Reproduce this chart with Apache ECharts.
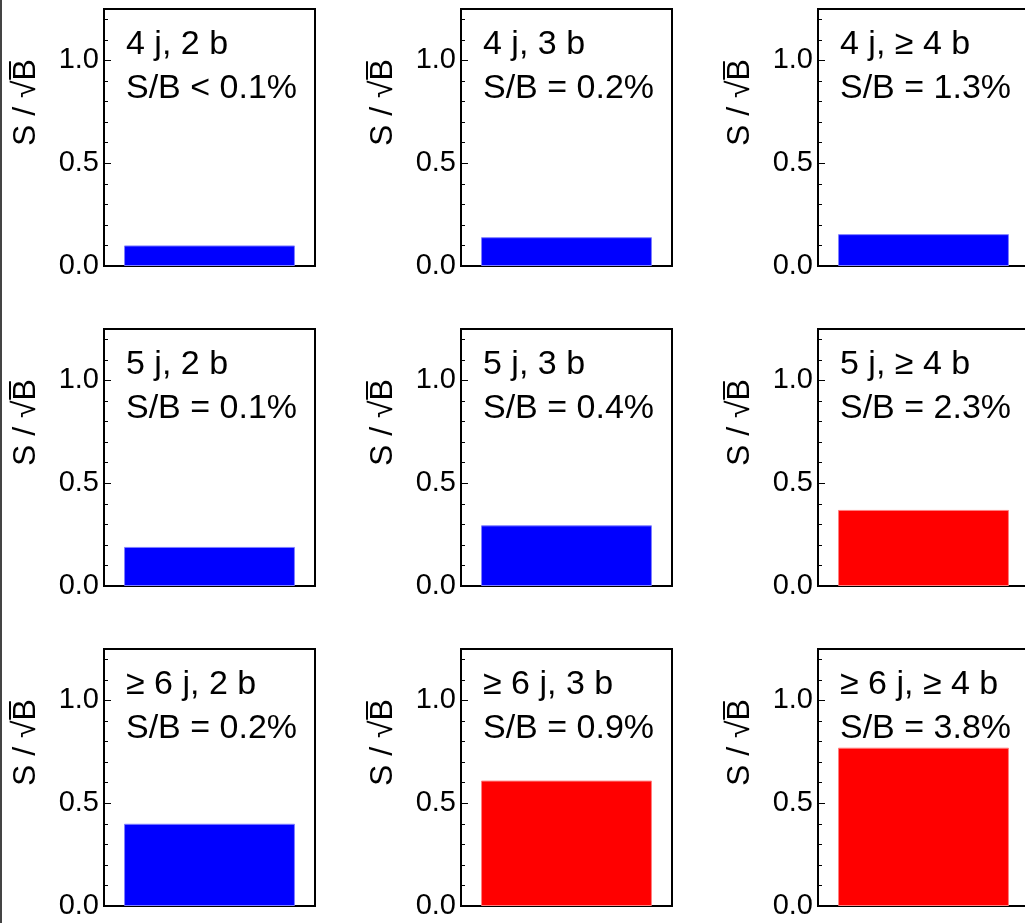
<!DOCTYPE html>
<html>
<head>
<meta charset="utf-8">
<script src="https://cdn.jsdelivr.net/npm/echarts@6/dist/echarts.min.js"></script>
<style>
html,body{margin:0;padding:0;background:#fff;overflow:hidden;}
#chart{width:1040px;height:923px;}
</style>
</head>
<body>
<div id="chart"></div>
<script>
// ---- data ----
const panelTitles = ['4 j, 2 b', '4 j, 3 b', '4 j, \u2265 4 b',
                     '5 j, 2 b', '5 j, 3 b', '5 j, \u2265 4 b',
                     '\u2265 6 j, 2 b', '\u2265 6 j, 3 b', '\u2265 6 j, \u2265 4 b'];
const sbLabels = ['S/B < 0.1%', 'S/B = 0.2%', 'S/B = 1.3%',
                  'S/B = 0.1%', 'S/B = 0.4%', 'S/B = 2.3%',
                  'S/B = 0.2%', 'S/B = 0.9%', 'S/B = 3.8%'];
const significance = [0.10, 0.14, 0.155, 0.19, 0.295, 0.37, 0.40, 0.61, 0.77];
const highlighted = [false, false, false, false, false, true, false, true, true];
const yTickLabels = [0, 0.5, 1.0];
const yMax = 1.25;
const yAxisTitle = 'S / \u221AB\u0305';

// ---- layout ----
const colLeft = [104, 461, 818];
const rowTop = [9, 329, 649];
const gW = 211, gH = 257;
const FONT = '"Liberation Sans", Arial, Helvetica, sans-serif';

const grids = [], xAxes = [], yAxes = [], series = [], graphics = [];
for (let i = 0; i < 9; i++) {
  const r = Math.floor(i / 3), c = i % 3;
  grids.push({left: colLeft[c], top: rowTop[r], width: gW, height: gH,
    show: true, borderColor: '#000', borderWidth: 2, backgroundColor: 'transparent', containLabel: false});
  xAxes.push({type: 'category', gridIndex: i, data: [panelTitles[i]],
    axisLine: {show: true, lineStyle: {color: '#000', width: 2}},
    axisTick: {show: false}, axisLabel: {show: false}, splitLine: {show: false}});
  // minor ticks axis
  yAxes.push({type: 'value', gridIndex: i, position: 'left', offset: 0, min: 0, max: yMax, interval: 0.1,
    axisLine: {show: true, lineStyle: {color: '#000', width: 2}},
    axisTick: {show: true, inside: true, length: 4, lineStyle: {color: '#000', width: 1}},
    axisLabel: {show: false}, splitLine: {show: false}});
  // major ticks + labels axis
  yAxes.push({type: 'value', gridIndex: i, position: 'left', offset: 0, min: 0, max: yMax, interval: 0.5,
    name: yAxisTitle, nameLocation: 'middle', nameGap: 62, nameRotate: 90,
    nameTextStyle: {fontFamily: FONT, fontSize: 32, color: '#000', padding: [0, 0, 0, 70]},
    axisLine: {show: true, lineStyle: {color: '#000', width: 2}},
    axisTick: {show: true, inside: true, length: 7, lineStyle: {color: '#000', width: 1}},
    axisLabel: {show: true, margin: 5, fontFamily: FONT, fontSize: 29, color: '#000',
      formatter: v => yTickLabels.some(t => Math.abs(t - v) < 1e-9) ? v.toFixed(1) : ''},
    splitLine: {show: false}});
  const col = highlighted[i] ? '#ff0000' : '#0000ff';
  const edge = highlighted[i] ? '#ff8080' : '#8080ff';
  series.push({type: 'bar', xAxisIndex: i, yAxisIndex: 2 * i + 1,
    data: [significance[i]], barWidth: '81%', silent: true, animation: false,
    itemStyle: {color: col, borderColor: edge, borderWidth: 1}});
  graphics.push({type: 'text', left: colLeft[c] + 22, top: rowTop[r] + 14, z: 100,
    style: {text: panelTitles[i] + '\n' + sbLabels[i], font: '34px ' + FONT, fill: '#000', lineHeight: 44}});
}
graphics.push({type: 'line', shape: {x1: 1, y1: 0, x2: 1, y2: 923}, style: {stroke: '#444', lineWidth: 2}});

const chart = echarts.init(document.getElementById('chart'), null, {renderer: 'canvas'});
chart.setOption({
  animation: false,
  backgroundColor: '#fff',
  grid: grids, xAxis: xAxes, yAxis: yAxes, series: series, graphic: graphics
});
</script>
</body>
</html>
